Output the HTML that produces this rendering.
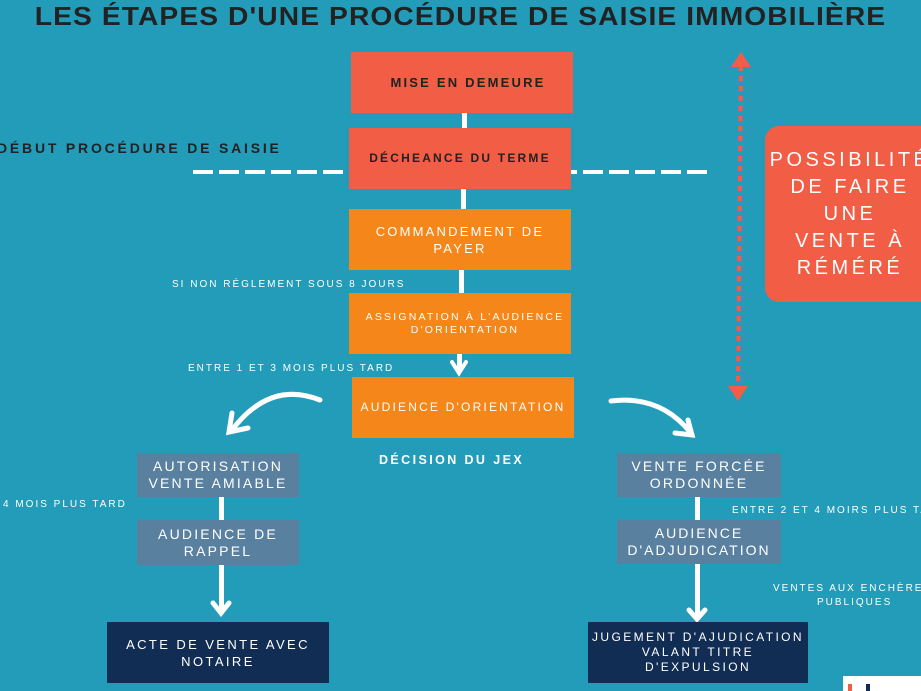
<!DOCTYPE html>
<html><head><meta charset="utf-8"><style>
*{margin:0;padding:0;box-sizing:border-box}
body{width:921px;height:691px;overflow:hidden;background:#239cba;position:relative;font-family:"Liberation Sans","DejaVu Sans",sans-serif}
.b{position:absolute;display:flex;align-items:center;justify-content:center;text-align:center;color:#fff;font-size:13px;letter-spacing:2.2px;line-height:17px}
.red{background:#f25d46;color:#222;font-weight:bold}
.or{background:#f5861a}
.gr{background:#5a80a0;font-size:14px;letter-spacing:2.2px;line-height:17px}
.nv{background:#112d54;letter-spacing:2.4px}
.t{position:absolute;color:#fff;font-size:11px;letter-spacing:2px;white-space:nowrap}
.v{position:absolute;background:#fff;width:5px}
</style></head><body>
<div style="position:absolute;left:0;width:921px;top:1px;text-align:center;font-size:26px;font-weight:bold;color:#222;letter-spacing:1px;transform:scaleX(1.085)">LES ÉTAPES D'UNE PROCÉDURE DE SAISIE IMMOBILIÈRE</div>

<svg style="position:absolute;left:0;top:0" width="921" height="691">
<line x1="193" y1="172" x2="713" y2="172" stroke="#fff" stroke-width="4" stroke-dasharray="20,6"/>
<line x1="741" y1="66" x2="738" y2="388" stroke="#f25d46" stroke-width="4" stroke-dasharray="5,5"/>
<polygon points="741,52 731,67 751,67" fill="#f25d46"/>
<polygon points="738,401 728,386 748,386" fill="#f25d46"/>
<path d="M320,400 Q270,380 232,430" stroke="#fff" stroke-width="5" fill="none" stroke-linecap="round"/>
<path d="M232,413 L229,432 L248,428" stroke="#fff" stroke-width="5" fill="none" stroke-linecap="round"/>
<path d="M611,401 Q660,395 690,432" stroke="#fff" stroke-width="5" fill="none" stroke-linecap="round"/>
<path d="M675,433 L692,435 L688,420" stroke="#fff" stroke-width="5" fill="none" stroke-linecap="round"/>
<path d="M452,362 L459,373 L466,362" stroke="#fff" stroke-width="4" fill="none" stroke-linecap="round"/>
<path d="M213,603 L221,613 L229,603" stroke="#fff" stroke-width="5" fill="none" stroke-linecap="round"/>
<path d="M689,610 L697,619 L705,610" stroke="#fff" stroke-width="5" fill="none" stroke-linecap="round"/>
</svg>
<div class="v" style="left:462px;top:112px;height:18px"></div>
<div class="v" style="left:461px;top:188px;height:22px"></div>
<div class="v" style="left:459px;top:269px;height:25px"></div>
<div class="v" style="left:457px;top:353px;height:17px"></div>
<div class="v" style="left:219px;top:497px;height:24px"></div>
<div class="v" style="left:219px;top:564px;height:47px"></div>
<div class="v" style="left:695px;top:497px;height:24px"></div>
<div class="v" style="left:695px;top:564px;height:52px"></div>

<div class="b red" style="left:351px;top:52px;width:222px;height:61px;padding-left:12px">MISE EN DEMEURE</div>
<div class="b red" style="left:349px;top:128px;width:222px;height:61px;font-size:12px">DÉCHEANCE DU TERME</div>
<div class="b or" style="left:349px;top:209px;width:222px;height:61px">COMMANDEMENT DE<br>PAYER</div>
<div class="b or" style="left:349px;top:293px;width:222px;height:61px;font-size:10.5px;line-height:13px;padding-left:10px">ASSIGNATION À L'AUDIENCE<br>D'ORIENTATION</div>
<div class="b or" style="left:352px;top:377px;width:222px;height:61px;font-size:12px">AUDIENCE D'ORIENTATION</div>
<div class="b gr" style="left:137px;top:453px;width:162px;height:44px">AUTORISATION<br>VENTE AMIABLE</div>
<div class="b gr" style="left:137px;top:520px;width:162px;height:45px">AUDIENCE DE<br>RAPPEL</div>
<div class="b nv" style="left:107px;top:622px;width:222px;height:61px">ACTE DE VENTE AVEC<br>NOTAIRE</div>
<div class="b gr" style="left:617px;top:453px;width:164px;height:44px">VENTE FORCÉE<br>ORDONNÉE</div>
<div class="b gr" style="left:617px;top:520px;width:164px;height:44px;letter-spacing:2px">AUDIENCE<br>D'ADJUDICATION</div>
<div class="b nv" style="left:588px;top:622px;width:220px;height:61px;font-size:12px;line-height:15px">JUGEMENT D'AJUDICATION<br>VALANT TITRE<br>D'EXPULSION</div>

<div style="position:absolute;left:765px;top:126px;width:170px;height:176px;background:#f25d46;border-radius:14px"></div>
<div style="position:absolute;left:760px;top:147px;width:180px;text-align:center;color:#fff;font-size:20px;letter-spacing:3.5px;line-height:27px">POSSIBILITÉ<br>DE FAIRE<br>UNE<br>VENTE À<br>RÉMÉRÉ</div>

<div class="t" style="left:-3px;top:140px;color:#222;font-weight:bold;font-size:14px;letter-spacing:2.8px">DÉBUT PROCÉDURE DE SAISIE</div>
<div class="t" style="left:172px;top:279px;font-size:10px">SI NON RÉGLEMENT SOUS 8 JOURS</div>
<div class="t" style="left:188px;top:363px;font-size:10px">ENTRE 1 ET 3 MOIS PLUS TARD</div>
<div class="t" style="left:379px;top:453px;font-weight:bold;font-size:12.5px;letter-spacing:2.4px">DÉCISION DU JEX</div>
<div class="t" style="left:3px;top:499px;font-size:10px">4 MOIS PLUS TARD</div>
<div class="t" style="left:732px;top:505px;font-size:10px">ENTRE 2 ET 4 MOIRS PLUS TARD</div>
<div class="t" style="left:773px;top:583px;font-size:10px">VENTES AUX ENCHÈRES</div>
<div class="t" style="left:817px;top:597px;font-size:10px">PUBLIQUES</div>
<div style="position:absolute;left:843px;top:676px;width:78px;height:15px;background:#fff"></div>
<div style="position:absolute;left:848px;top:684px;width:4px;height:7px;background:#f25d46"></div>
<div style="position:absolute;left:866px;top:684px;width:4px;height:7px;background:#112d54"></div>
</body></html>
